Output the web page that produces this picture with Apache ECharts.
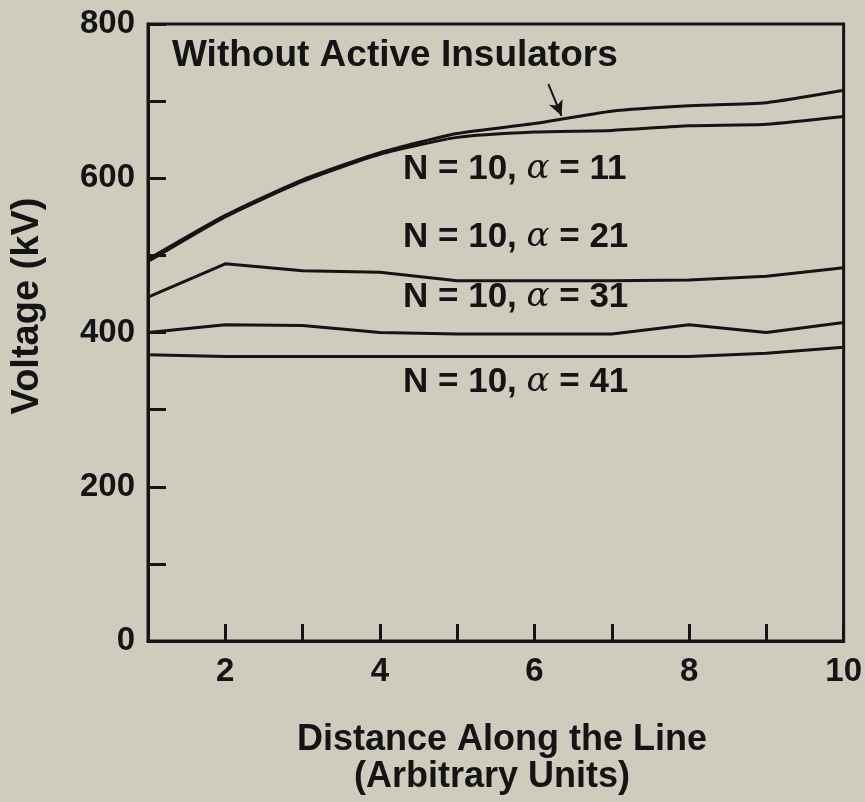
<!DOCTYPE html>
<html>
<head>
<meta charset="utf-8">
<script src="https://cdn.jsdelivr.net/npm/echarts@6/dist/echarts.min.js"></script>
<style>
html,body{margin:0;padding:0;background:#cfccbe;}
#chart{width:865px;height:802px;}
</style>
</head>
<body>
<div id="chart"></div>
<script>
// Data
var distance = [1, 2, 3, 4, 5, 6, 7, 8, 9, 10];
var withoutActive = [495, 552, 598, 633, 658, 671, 687, 694, 698, 714];
var alpha11 = [492, 550, 596, 631, 653, 660, 662, 668, 670, 680];
var alpha21 = [446, 489, 480, 478, 467, 467, 467, 468, 473, 484];
var alpha31 = [400, 410, 409, 400, 398, 398, 398, 410, 400, 413];
var alpha41 = [371, 369, 369, 369, 369, 369, 369, 369, 373, 381];
var xTickLabels = ['2', '4', '6', '8', '10'];
var yTickLabels = ['0', '200', '400', '600', '800'];
var seriesNames = ['Without Active Insulators', 'N = 10, α = 11', 'N = 10, α = 21', 'N = 10, α = 31', 'N = 10, α = 41'];
var alphaValues = ['11', '21', '31', '41'];
var arrowStart = [6.18, 722];
var arrowEnd = [6.35, 681];

function pairs(ys) { return distance.map(function (x, i) { return [x, ys[i]]; }); }

var INK = '#141414';
var FONT = '"Liberation Sans", Arial, Helvetica, sans-serif';

function lineSeries(name, ys, extra) {
  var s = {
    name: name, type: 'line', data: pairs(ys), symbol: 'none',
    lineStyle: { color: INK, width: 3 }, silent: true, z: 3
  };
  if (extra) for (var k in extra) s[k] = extra[k];
  return s;
}

function alphaLabel(a, x, y) {
  return {
    type: 'text', left: x, top: y - 22, z: 10,
    style: {
      text: '{b|N = 10, }{a|α}{b| = ' + a + '}',
      rich: {
        b: { fontFamily: FONT, fontWeight: 'bold', fontSize: 35, fill: INK },
        a: { fontFamily: '"DejaVu Serif", "Liberation Serif", serif', fontStyle: 'italic', fontWeight: 'normal', fontSize: 34, fill: INK }
      }
    }
  };
}

var chart = echarts.init(document.getElementById('chart'), null, { renderer: 'canvas' });
chart.setOption({
  animation: false,
  backgroundColor: '#cfccbe',
  grid: { left: 148, right: 19, top: 24, bottom: 161, show: true, borderColor: INK, borderWidth: 3, backgroundColor: 'transparent' },
  xAxis: {
    type: 'value', min: 1, max: 10, interval: 1,
    axisLine: { lineStyle: { color: INK, width: 3 } },
    axisTick: { inside: true, length: 17, lineStyle: { color: INK, width: 3 } },
    splitLine: { show: false },
    axisLabel: {
      margin: 14, color: INK, fontFamily: FONT, fontWeight: 'bold', fontSize: 33,
      formatter: function (v) { var s = String(v); return xTickLabels.indexOf(s) >= 0 ? s : ''; }
    }
  },
  yAxis: {
    type: 'value', min: 0, max: 800, interval: 100,
    axisLine: { show: true, lineStyle: { color: INK, width: 3 } },
    axisTick: { show: true, inside: true, length: 18, lineStyle: { color: INK, width: 3 } },
    splitLine: { show: false },
    axisLabel: {
      margin: 13, color: INK, fontFamily: FONT, fontWeight: 'bold', fontSize: 33,
      formatter: function (v) { var s = String(v); return yTickLabels.indexOf(s) >= 0 ? s : ''; }
    }
  },
  series: [
    lineSeries(seriesNames[0], withoutActive, {
      smooth: 0.2,
      markLine: {
        silent: true, symbol: ['none', 'arrow'], symbolSize: [11, 15],
        label: { show: false },
        lineStyle: { color: INK, width: 2, type: 'solid' },
        data: [[{ coord: arrowStart }, { coord: arrowEnd }]]
      }
    }),
    lineSeries(seriesNames[1], alpha11, { smooth: 0.2 }),
    lineSeries(seriesNames[2], alpha21),
    lineSeries(seriesNames[3], alpha31),
    lineSeries(seriesNames[4], alpha41)
  ],
  graphic: [
    { type: 'text', left: 172, top: 60 - 23, z: 10,
      style: { text: seriesNames[0], fontFamily: FONT, fontWeight: 'bold', fontSize: 37, fill: INK } },
    alphaLabel(alphaValues[0], 403, 174),
    alphaLabel(alphaValues[1], 403, 242),
    alphaLabel(alphaValues[2], 403, 302),
    alphaLabel(alphaValues[3], 403, 387),
    { type: 'text', x: 502, y: 740, z: 10,
      style: { text: 'Distance Along the Line', fontFamily: FONT, fontWeight: 'bold', fontSize: 36, fill: INK, align: 'center', verticalAlign: 'middle' } },
    { type: 'text', x: 492, y: 777, z: 10,
      style: { text: '(Arbitrary Units)', fontFamily: FONT, fontWeight: 'bold', fontSize: 36, fill: INK, align: 'center', verticalAlign: 'middle' } },
    { type: 'text', x: 28, y: 306, rotation: Math.PI / 2, z: 10,
      style: { text: 'Voltage (kV)', fontFamily: FONT, fontWeight: 'bold', fontSize: 38, fill: INK, align: 'center', verticalAlign: 'middle' } }
  ]
});
</script>
</body>
</html>
